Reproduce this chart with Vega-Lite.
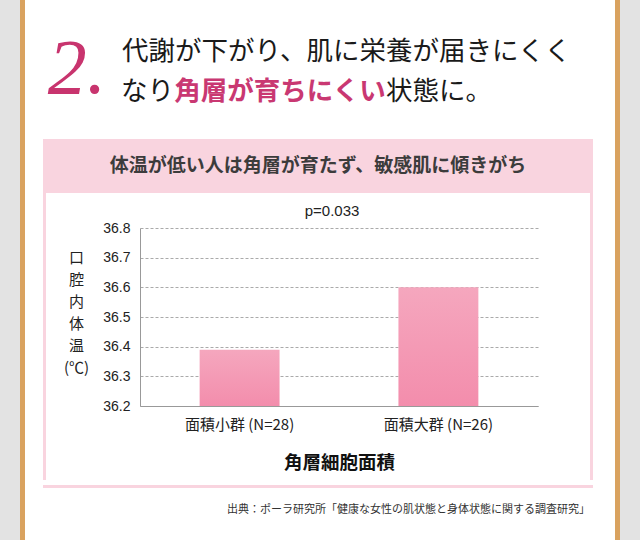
{
  "$schema": "https://vega.github.io/schema/vega-lite/v6.json",
  "padding": 0,
  "autosize": {"type": "pad"},
  "background": "white",
  "spacing": 0,
  "hconcat": [
    {"width": 20, "height": 540, "view": {"fill": "#e3e3e3"}, "data": {"values": [{}]}, "mark": "text", "encoding": {"text": {"value": ""}}},
    {"width": 5, "height": 540, "view": {"fill": "#d9a25f"}, "data": {"values": [{}]}, "mark": "text", "encoding": {"text": {"value": ""}}},
    {"width": 18, "height": 540, "data": {"values": [{}]}, "mark": "text", "encoding": {"text": {"value": ""}}},
    {
      "spacing": 0,
      "vconcat": [
        {
          "spacing": 0,
          "hconcat": [
            {
              "width": 68, "height": 139,
              "data": {"values": [{"t": "2."}]},
              "mark": {"type": "text", "font": "Liberation Serif", "fontStyle": "italic", "fontSize": 78, "color": "#c8346e"},
              "encoding": {"text": {"field": "t"}}
            },
            {"width": 10, "height": 139, "data": {"values": [{}]}, "mark": "text", "encoding": {"text": {"value": ""}}},
            {
              "spacing": 0,
              "vconcat": [
                {"width": 451, "height": 33, "data": {"values": [{}]}, "mark": "text", "encoding": {"text": {"value": ""}}},
                {
                  "width": 451, "height": 38,
                  "data": {"values": [{"t": "代謝が下がり、肌に栄養が届きにくく"}]},
                  "mark": {"type": "text", "fontSize": 26.5, "color": "#1a1a1a"},
                  "encoding": {"text": {"field": "t"}}
                },
                {
                  "spacing": 0,
                  "hconcat": [
                    {
                      "width": 53, "height": 42,
                      "data": {"values": [{"t": "なり"}]},
                      "mark": {"type": "text", "fontSize": 26.5, "color": "#1a1a1a"},
                      "encoding": {"text": {"field": "t"}}
                    },
                    {
                      "width": 212, "height": 42,
                      "data": {"values": [{"t": "角層が育ちにくい"}]},
                      "mark": {"type": "text", "fontSize": 26.5, "fontWeight": "bold", "color": "#c93872"},
                      "encoding": {"text": {"field": "t"}}
                    },
                    {
                      "width": 106, "height": 42,
                      "data": {"values": [{"t": "状態に。"}]},
                      "mark": {"type": "text", "fontSize": 26.5, "color": "#1a1a1a"},
                      "encoding": {"text": {"field": "t"}}
                    }
                  ]
                }
              ]
            }
          ]
        },
        {
          "width": 550, "height": 54,
          "view": {"fill": "#f9d4df"},
          "data": {"values": [{"t": "体温が低い人は角層が育たず、敏感肌に傾きがち"}]},
          "mark": {"type": "text", "fontSize": 19, "fontWeight": "bold", "color": "#3c3c3c"},
          "encoding": {"text": {"field": "t"}}
        },
        {
          "spacing": 0,
          "hconcat": [
            {"width": 3, "height": 287, "view": {"fill": "#f9d4df"}, "data": {"values": [{}]}, "mark": "text", "encoding": {"text": {"value": ""}}},
            {
              "width": 544, "height": 287,
              "view": {"fill": "white"},
              "title": {"text": "p=0.033", "offset": -26, "dx": 14, "fontSize": 15, "fontWeight": "normal", "color": "#222", "font": "Liberation Sans"},
              "data": {"values": [
                {"group": "面積小群 (N=28)", "temp": 36.39},
                {"group": "面積大群 (N=26)", "temp": 36.6}
              ]},
              "mark": {
                "type": "bar",
                "color": {
                  "gradient": "linear", "x1": 0, "y1": 0, "x2": 0, "y2": 1,
                  "stops": [{"offset": 0, "color": "#f5a7be"}, {"offset": 1, "color": "#f38dac"}]
                }
              },
              "encoding": {
                "x": {
                  "field": "group", "type": "nominal", "sort": null,
                  "scale": {"range": [94, 492], "paddingInner": 0.598, "paddingOuter": 0.3},
                  "axis": {
                    "title": "角層細胞面積", "offset": -74, "labelAngle": 0, "ticks": false,
                    "labelPadding": 11, "labelFontSize": 15, "labelColor": "#222",
                    "domainColor": "#999", "titleFontSize": 18.5, "titleFontWeight": "bold",
                    "titleY": 56, "titleBaseline": "middle", "titleColor": "#111"
                  }
                },
                "y": {
                  "field": "temp", "type": "quantitative",
                  "scale": {"domain": [36.2, 36.8], "range": [213, 35], "zero": false, "nice": false},
                  "axis": {
                    "values": [36.2, 36.3, 36.4, 36.5, 36.6, 36.7, 36.8], "format": ".1f",
                    "offset": -94, "ticks": false, "labelPadding": 10, "labelFontSize": 14,
                    "labelFont": "Liberation Sans", "labelColor": "#222",
                    "domainColor": "#999", "gridColor": "#aaa", "gridDash": [3, 2],
                    "title": ["口", "腔", "内", "体", "温", "(℃)"], "titleAngle": 0,
                    "titleX": -64, "titleY": 64, "titleAlign": "center", "titleBaseline": "middle",
                    "titleLineHeight": 22, "titleFontSize": 15, "titleFontWeight": "normal", "titleColor": "#222"
                  }
                },
                "y2": {"datum": 36.2}
              }
            },
            {"width": 3, "height": 287, "view": {"fill": "#f9d4df"}, "data": {"values": [{}]}, "mark": "text", "encoding": {"text": {"value": ""}}}
          ]
        },
        {"width": 550, "height": 3, "view": {"fill": "#f9d4df"}, "data": {"values": [{}]}, "mark": "text", "encoding": {"text": {"value": ""}}},
        {
          "spacing": 0,
          "hconcat": [
            {"width": 184, "height": 36, "data": {"values": [{}]}, "mark": "text", "encoding": {"text": {"value": ""}}},
            {
              "width": 361, "height": 36,
              "data": {"values": [{"t": "出典：ポーラ研究所「健康な女性の肌状態と身体状態に関する調査研究」"}]},
              "mark": {"type": "text", "fontSize": 11, "color": "#333"},
              "encoding": {"text": {"field": "t"}}
            }
          ]
        },
        {"width": 550, "height": 19, "data": {"values": [{}]}, "mark": "text", "encoding": {"text": {"value": ""}}},
        {"width": 550, "height": 1, "view": {"fill": "#cccccc"}, "data": {"values": [{}]}, "mark": "text", "encoding": {"text": {"value": ""}}}
      ]
    },
    {"width": 22, "height": 540, "data": {"values": [{}]}, "mark": "text", "encoding": {"text": {"value": ""}}},
    {"width": 5, "height": 540, "view": {"fill": "#d9a25f"}, "data": {"values": [{}]}, "mark": "text", "encoding": {"text": {"value": ""}}},
    {"width": 20, "height": 540, "view": {"fill": "#e3e3e3"}, "data": {"values": [{}]}, "mark": "text", "encoding": {"text": {"value": ""}}}
  ],
  "config": {
    "font": "Noto Sans CJK JP",
    "view": {"stroke": null},
    "concat": {"spacing": 0}
  }
}
